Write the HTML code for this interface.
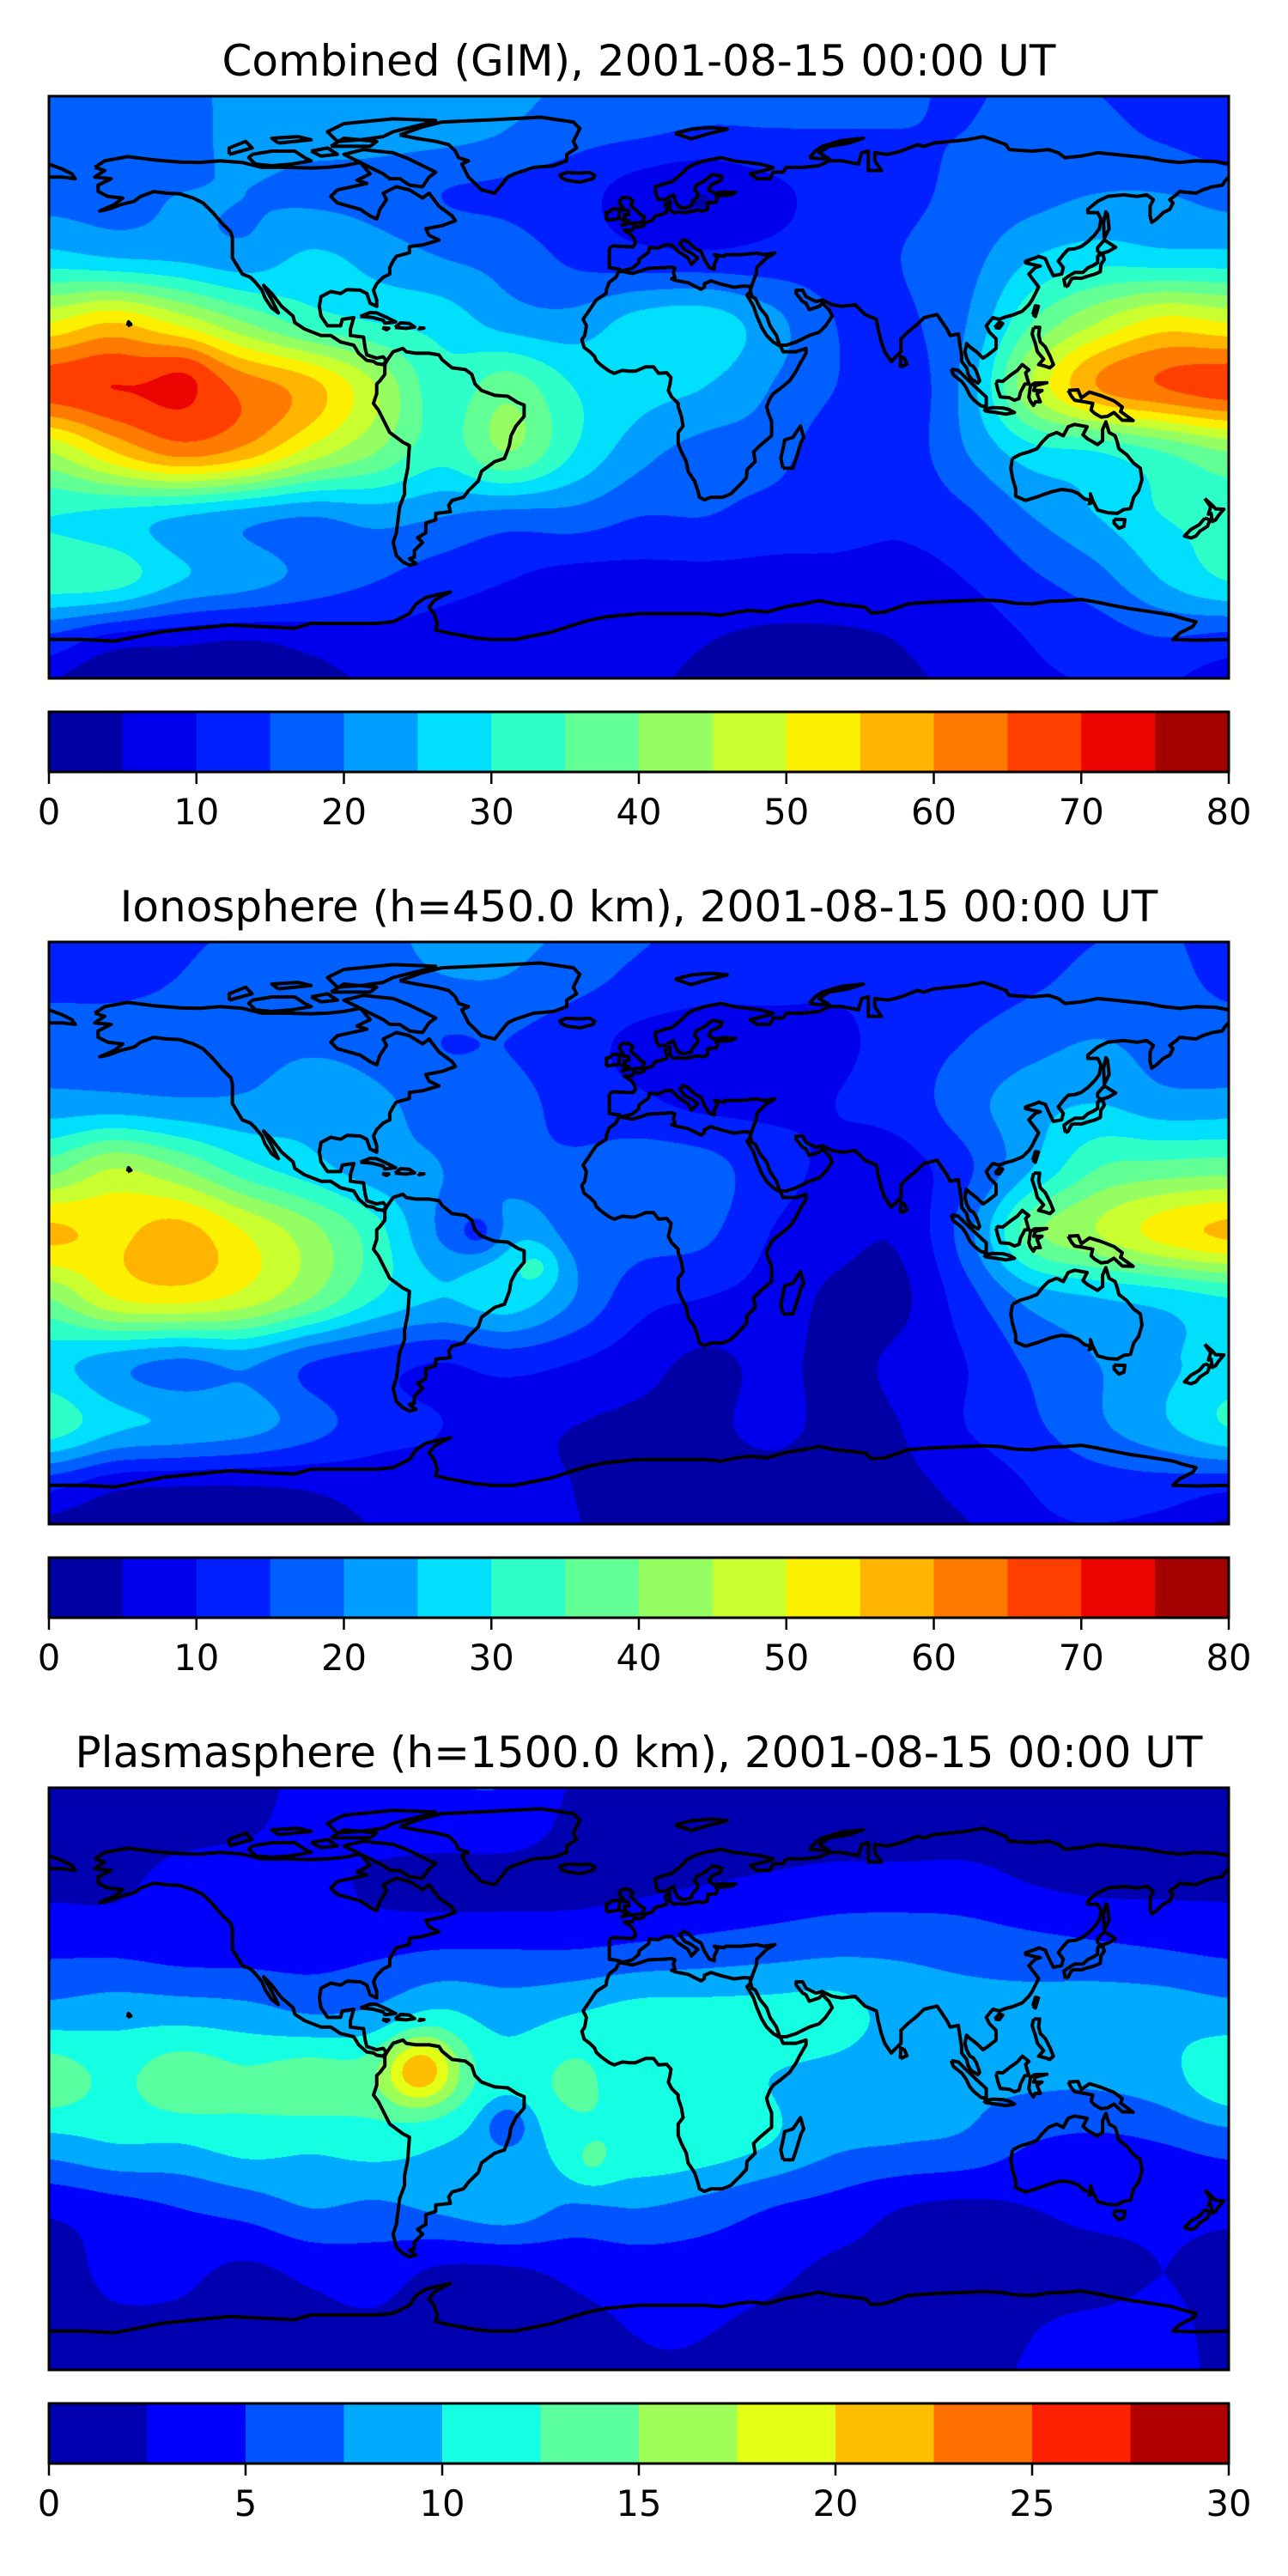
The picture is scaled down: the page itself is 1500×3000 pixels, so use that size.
<!DOCTYPE html>
<html><head><meta charset="utf-8"><title>TEC maps</title>
<style>
html,body{margin:0;padding:0;background:#fff;}
#wrap{position:relative;width:1500px;height:3000px;overflow:hidden;font-family:"DejaVu Sans","Liberation Sans",sans-serif;}
canvas{position:absolute;}
svg{position:absolute;left:0;top:0;}
</style></head>
<body>
<div id="wrap">
<canvas id="c0" width="1374" height="678" style="left:57px;top:112px"></canvas>
<canvas id="c1" width="1374" height="678" style="left:57px;top:1097px"></canvas>
<canvas id="c2" width="1374" height="678" style="left:57px;top:2082px"></canvas>
<svg id="ov" width="1500" height="3000"></svg>
</div>
<script>
// ---- data ----
const lats = [80,60,40,20,0,-20,-40,-60,-80];
const lons = [-180,-160,-140,-120,-100,-80,-60,-40,-20,0,20,40,60,80,100,120,140,160,180];
const combinedValues = [
 [17,18,18,22,22,22,22,20,17,16,15,15,15,15,15,16,16,14,12],
 [18,18,20,20,19,18,15,14,12,8,8,9,12,14,16,18,20,20,18],
 [27,25,24,22,26,23,20,18,14,12,12,12,13,15,18,25,28,27,27],
 [50,55,48,40,33,30,28,23,22,27,28,22,15,14,20,35,45,52,50],
 [68,70,68,63,57,45,32,38,30,27,25,20,15,12,22,45,60,65,68],
 [45,55,62,58,48,40,32,40,30,22,18,17,12,12,20,28,30,35,40],
 [30,28,25,22,20,22,20,18,18,15,15,13,12,11,14,20,25,30,32],
 [33,32,25,22,18,15,12,10,8,8,8,8,8,8,10,14,18,25,30],
 [12,6,5,4,6,8,8,8,7,6,5,4,4,5,7,10,12,14,12]
];
const ionoValues = [
 [14,14,15,16,17,18,20,20,17,14,12,12,11,11,12,14,16,16,14],
 [17,17,17,18,19,18,15,15,12,9,8,8,9,12,15,18,20,18,17],
 [22,22,21,21,23,21,18,17,13,11,9,9,10,12,18,23,25,22,22],
 [38,45,40,32,27,22,20,17,16,18,17,12,9,8,14,25,35,37,38],
 [56,54,57,50,42,32,20,25,18,17,16,10,7,6,18,38,45,52,56],
 [40,50,52,48,40,30,25,28,20,12,10,8,4,4,13,22,25,27,30],
 [27,22,19,21,15,12,10,12,10,7,4,6,4,6,10,16,20,24,27],
 [33,26,24,22,17,12,10,7,5,4,4,6,4,5,10,14,19,24,30],
 [10,5,4,4,5,7,8,7,5,4,3,3,3,4,6,10,12,12,10]
];
const plasmaValues = [
 [1.5,1.5,1.5,2,3.5,4,4,4,2,1.5,1.2,1.2,1.2,1.2,1.2,1.2,1.5,1.5,1.5],
 [2,2,3.5,4,3.5,2,1.5,1.5,1.5,2,2.5,3,3.5,3.5,3.5,2.5,2,2,2],
 [4.5,4.5,4,4,4,4.5,5,5,5,5.5,6,6.5,7,7,6.5,6,5.5,5,4.5],
 [8.5,9,9,8.5,7.5,8,10,9,10,11,11,11,11,9,8.5,8.5,9,9,8.5],
 [14,12,14,13,14,13,13,11,13,11,11,10,9,8,8,8,8,9,12],
 [9,10,10,11,10.5,11,10,9,11,12,11.5,10,8,7.5,7,5,4.5,5,6],
 [3,4,5,6,7.5,7,8,9,7,7.5,6.5,5,4,2.5,2,2.5,3,3,3],
 [1.5,3,3,2,3,3.5,2,2,3,3.5,3.5,3,2,2,2,2,2,2.5,2],
 [2,2,2,2,2,2,1.5,1.5,2,2.5,2.5,2,1.5,1.5,2,2.5,3,3,2]
];
// local features: [lon, lat, amplitude, radius(deg)]
const combinedBlobs = [[-138,6,5,10],[20,58,-3,14]];
const ionoBlobs = [[-48,0,-9,8],[-30,-10,6,7]];
const plasmaBlobs = [[-67,3,9,11],[-40,-14,-4,7],[-15,-27,2.5,8]];
const combinedTicks = [0,10,20,30,40,50,60,70,80];
const plasmaTicks = [0,5,10,15,20,25,30];
const titles = ["Combined (GIM), 2001-08-15 00:00 UT","Ionosphere  (h=450.0 km), 2001-08-15 00:00 UT","Plasmasphere (h=1500.0 km), 2001-08-15 00:00 UT"];

// ---- coastlines (lon,lat) ----
const coasts = [
 [[-166,68],[-163,70],[-156,71.3],[-148,70.3],[-140,69.6],[-134,69.5],[-128,70],[-121,69.5],[-115,68],[-108,68],[-100,67.8],[-95,68],[-90,68.5],[-85,69.5],[-82,66],[-86,64],[-83,63],[-92,61],[-94,59],[-92,57],[-85,55],[-82,53],[-80,52],[-79,55],[-77,58],[-78,60],[-74,62],[-70,61],[-66,58.5],[-64,60],[-61,56],[-57,53],[-56,51.5],[-60,50],[-65,49],[-64,47],[-61,45.5],[-66,44],[-70,43.5],[-70,41.6],[-74,40.5],[-75,39],[-76,37],[-76,35],[-78,34],[-80,32],[-81,30],[-80,27],[-80,25],[-82,26],[-83,29],[-85,30],[-89,30.2],[-91,29],[-94,29.6],[-97,28],[-97.5,25],[-97,22],[-95,19],[-91,19],[-90.5,21],[-87,21.5],[-88,18],[-88,16],[-84,15.5],[-83.5,12],[-83,10],[-80,9],[-78,9.4],[-77,8.2],[-78,7],[-80,7.3],[-81,8],[-83,8.3],[-85.5,10.5],[-87,13],[-91,14],[-94,16],[-97,16],[-102,18],[-105,20],[-105.5,22],[-109,25],[-112,29],[-114.5,31.5],[-112,27],[-110,23],[-112,24.5],[-114,27.5],[-115,30],[-117,32.5],[-118.5,34],[-121,35],[-122.5,37.5],[-124,40],[-124,43],[-124,46],[-124.5,48],[-127,50.5],[-130,54],[-133,57],[-136,58.5],[-140,59.8],[-144,60],[-148,60.5],[-152,59],[-154,57.5],[-158,56.5],[-162,55],[-164.5,54.5],[-160,56.5],[-157.5,58.5],[-162,59],[-165,60.5],[-165,62.5],[-161,64.5],[-166,65],[-163,67],[-166,68]],
 [[-77,8],[-76,9.5],[-75,11],[-72,12],[-71,11],[-68,10.5],[-64,10.5],[-61,10],[-60,8.5],[-57,6],[-53,5.5],[-51,4],[-50,1],[-48,-1],[-44,-2.5],[-40,-2.8],[-37,-4.7],[-35,-5.5],[-35,-9],[-37.5,-12],[-39,-15],[-39.5,-18],[-41,-22],[-44,-23],[-48,-26],[-49,-29],[-52,-32],[-53.5,-34],[-57,-35],[-58,-36.5],[-57.5,-38.5],[-62,-39],[-62,-41],[-65,-42],[-65,-45],[-67.5,-46.5],[-66,-48],[-68.5,-50.5],[-68.5,-52.5],[-70,-53],[-68,-54.5],[-70,-55],[-72,-54],[-74,-52],[-75,-48],[-74,-45],[-73.5,-41],[-73,-37],[-71.5,-33],[-71.5,-30],[-70.5,-25],[-70,-18],[-72,-17],[-76,-14],[-77.5,-11],[-79.5,-7],[-81,-5],[-80,-2],[-80,1],[-79,2],[-77.5,4],[-77.5,7],[-77,8]],
 [[-73,78],[-66,80.5],[-60,82],[-45,82.7],[-30,83.5],[-20,82],[-18,80],[-20,76],[-19,74],[-22,72],[-22,70],[-26,68.5],[-32,68],[-38,66],[-40,65],[-42,62.5],[-44,60],[-48,61],[-50,63],[-52,65],[-53,67],[-54,69],[-52,70],[-55,71],[-56,73],[-58,75],[-62,76],[-68,77],[-73,78]],
 [[-80,73],[-75,72.5],[-70,70.5],[-67,69],[-62,66.5],[-64,65],[-66,62],[-70,62.5],[-73,64.5],[-76,64.5],[-78,66],[-82,68],[-86,70],[-90,72],[-84,73.5],[-80,73]],
 [[-118,72],[-112,73],[-105,73],[-102,71],[-100,70],[-106,69],[-112,68.5],[-117,69],[-119,71],[-118,72]],
 [[-92,76],[-85,76.5],[-78,77.5],[-75,79],[-65,81.5],[-62,82.5],[-75,83],[-90,81.5],[-95,79],[-92,76]],
 [[-125,72],[-118,74],[-120,76],[-125,74],[-125,72]],
 [[-100,73],[-95,74],[-92,72],[-97,71.5],[-100,73]],
 [[-110,75.5],[-100,76.5],[-104,77.5],[-112,77],[-110,75.5]],
 [[-94,74.5],[-82,74.5],[-80,76],[-90,77],[-94,74.5]],
 [[-9,43],[-9,39],[-9,37],[-6,36.5],[-5,36],[-2,36.8],[0,38.5],[0,39.5],[3,41.8],[3.2,43.2],[6,43],[8,44],[10,44],[12,42],[15,40],[16,38],[17,39],[18,40],[16,41.5],[14,42.5],[12.5,44.5],[13.5,45.6],[15,45],[17,43],[19,42],[20,39.5],[21.5,37],[23,36.5],[23,38],[24,40],[23,41],[26,40.5],[26.5,41],[29,41],[31,41],[36,41.5],[38,41],[41.5,41.5],[39,40],[36,37],[35.8,35],[35,33],[34.5,31.5],[34,30],[34.5,28],[35.5,27.5],[37,24.5],[39,22],[40,19],[42,16],[43,13],[45,13],[48,14],[52,16],[55,17],[57,19],[59,22],[58,24],[56,26],[56.3,26.3],[55,25],[52,24],[51,26],[50,26.5],[48,29],[48,30],[50,30],[51,28],[54,26.5],[56,27],[59,25.5],[62,25],[66,25.5],[67.5,24],[69,22.5],[72.5,21],[73,18],[74,14],[75,11],[77,8],[78,9],[80,11],[80,15],[82,17],[85,19.5],[87,21.5],[89,22],[91,22.5],[92,21],[94,18],[95,16],[97.5,16.5],[98,13],[98.5,10],[98.5,8],[100,6],[100.5,4],[101.5,2.5],[103.5,1.3],[104,2],[103,5],[102,6.5],[101,7],[100,9],[99.5,11],[100,13.5],[101,12.5],[103,11],[105,9],[106.5,10],[109,12],[109,15],[107,17],[106,19],[108,21.5],[110,21],[112,21.8],[114,22.3],[117,23.5],[119,25.5],[120,27],[121.5,30],[122,31],[120.5,33],[119,35],[121,37],[122.5,37.5],[120,38],[118,38.5],[118,39],[121,40],[122,40.5],[124,39.8],[125,37.5],[126.5,34.5],[129,35],[129.5,37],[128,39],[129.5,41],[131,42.6],[133,42.8],[135,43.5],[137,45],[139,47],[140.5,49],[141,52],[140,54],[137,54],[137,55],[140,57.5],[143,59],[148,59.5],[152,59],[155,59.5],[157,58],[156,56],[156,53],[156.5,51],[158,52],[160,54],[162,55],[163,57],[162,58],[164,59.5],[165,60.5],[170,60],[172,61],[175,62],[178,62.5],[179,64],[180,65]],
 [[180,69],[176,69.8],[170,70],[165,69.5],[160,70],[155,71],[150,71.5],[145,72],[140,72.5],[135,71.5],[130,71],[128,72.5],[125,73.5],[120,73],[113,73.5],[112,75],[108,76.5],[105,77.5],[100,76.5],[95,76],[90,75.5],[87,74.5],[85,75],[80,73],[76,72],[72,72.5],[72,70],[74,67],[70,67],[70,73],[68,72.5],[67,69],[62,70],[58,70],[55,68.5],[50,68],[45,68],[44,66.5],[41,66.5],[40,64.5],[36,64.5],[34,66],[40,67.5],[41,68],[37,69],[33,69.5],[29,70],[25,71],[20,70],[17,69],[15,68],[12.5,65.5],[10,63.5],[8,63],[5,62],[5,61],[5.5,59],[6,58],[8,58],[10.5,59.5],[11,58],[12,56],[12.6,56],[12.8,55.5],[14,55.5],[16,56],[16.5,57.5],[18,59],[18,60],[17,61],[17.5,62.5],[20,63.8],[21.5,65],[22.5,65.8],[25.4,65.2],[25,64],[22,62.5],[21.3,61],[23,60],[26,60.4],[29.5,60.2],[28,59.5],[23.5,59.2],[24,58.3],[23.5,57.2],[21,57],[21,56],[21,55],[19.5,54.5],[18,54.8],[14,54],[12,54.2],[10.5,54],[9.5,55],[9.5,57.5],[8,56.5],[8.5,55],[8.5,54],[7,53.5],[5,53],[4,51.5],[2,51],[1.5,50],[0,49.5],[-1.5,49.7],[-2,48.6],[-4.5,48.5],[-2.5,47.3],[-1.5,46],[-1,44.5],[-1.8,43.4],[-4,43.5],[-8,43.7],[-9,43]],
 [[-180,65],[-176,65],[-172,64.5],[-173,66],[-176,67.5],[-180,69]],
 [[-6,36],[-2,35.2],[0,35.8],[3,36.8],[8,37],[10,37.2],[11,36.8],[10.5,35.5],[11,34],[10,33.5],[11.5,33],[15,32.3],[19,30.3],[20,31],[20,32],[22,32.9],[25,31.9],[29,30.9],[32,31.3],[34,31.2],[34,29.5],[33,28.5],[35,25],[36,22],[37.5,18.5],[39,16],[41,14],[43.3,12.6],[44,11],[48,11],[51,12],[51,10.5],[49,7],[48,5],[46,2],[43,-0.5],[41,-2],[40,-3.5],[39,-6],[39.5,-8],[40.5,-10.5],[40.5,-15],[37,-18],[35,-20],[35.5,-23],[33,-25.5],[32.8,-28],[31,-30],[28,-33],[25.5,-34],[22,-34],[20,-34.8],[18.5,-34],[18,-32],[17,-29],[15,-26],[14.5,-23],[13,-20],[12,-17.5],[12,-14],[13.5,-12],[13,-9],[12,-6],[12,-5],[10,-3],[9,-1],[9.5,1],[9.8,3],[8.5,4.5],[6,4.3],[4.5,6.3],[2,6.3],[-1,5],[-3,5],[-5,5.2],[-7.5,4.3],[-9,5],[-11.5,6.8],[-13,8.2],[-13.5,9.5],[-15,11],[-16.7,12.3],[-17.4,14.7],[-16.5,16],[-16,19],[-17,21],[-15,24],[-13,27],[-10,29],[-9.8,30.5],[-9,32.5],[-7,34],[-6,36]],
 [[-5.5,50],[-3,50.6],[1,51],[1.7,52.7],[0.3,53.5],[-0.5,54.5],[-1.8,55.6],[-2.5,56.5],[-1.8,57.6],[-3,58.6],[-5,58.6],[-6,57.5],[-5.5,56.3],[-4.8,55.7],[-5,54.8],[-3.2,54.6],[-3,53.4],[-4.5,53.3],[-4.2,52.3],[-5.2,51.8],[-3,51.4],[-5.5,50]],
 [[-10,51.6],[-6,52.2],[-6,53.8],[-5.8,55.2],[-8,55.2],[-8.8,54.3],[-10,54],[-9.8,53],[-10,51.6]],
 [[44,-25],[47,-25],[48,-22],[49.5,-17],[50.3,-15.5],[49.3,-12],[47,-15.5],[44.5,-16.3],[44,-19],[43.3,-22],[44,-25]],
 [[114,-22],[113.5,-25],[114,-28],[115,-31.5],[115,-33.7],[118,-35],[121.5,-33.9],[124,-33],[126,-32.3],[129,-31.6],[132,-32],[134,-32.8],[136,-34.5],[138,-35],[137.8,-33],[138.5,-35],[140,-38],[143,-38.8],[146,-39],[148,-37.8],[150,-37.5],[151,-34],[152.5,-32],[153.5,-28.5],[153,-25],[151,-23.5],[149,-21],[146.5,-19],[146,-17],[145.3,-15],[143.5,-14],[142.5,-10.7],[141.5,-13],[141.5,-16.5],[140,-17.7],[137,-16],[135.5,-14.7],[136.8,-12.2],[133,-11.5],[131,-12.2],[129.5,-15],[127.5,-14],[125,-15],[123,-17],[121.5,-19],[119,-20],[116.5,-20.7],[114,-22]],
 [[145,-40.8],[148.3,-40.9],[148,-43],[146.5,-43.6],[145,-42],[145,-40.8]],
 [[172.7,-34.4],[175,-36.5],[176,-37.6],[178.5,-37.7],[177,-39.5],[176,-41],[175,-41.5],[174.6,-39],[173.8,-39.2],[174.5,-37],[172.7,-34.4]],
 [[172.7,-40.5],[174.3,-41],[173.5,-43],[171.2,-44.5],[170,-46],[168.5,-46.6],[166.5,-46],[168.4,-44],[171,-42.5],[172.7,-40.5]],
 [[130.2,31],[131,31.5],[132,33.5],[133,33.8],[135,33.7],[136.8,34.3],[139,34.9],[140.8,35.7],[141,38],[142,39.5],[141.5,41.4],[140,40.5],[140,38.5],[138.5,37.6],[137,36.9],[135.5,35.5],[133,35.5],[131,34.3],[129.7,33.3],[130.2,31]],
 [[140,41.8],[141.3,41.4],[143.3,42],[145.5,43.3],[142,45.5],[141.6,45],[140,43.2],[140,41.8]],
 [[142,46],[143.5,49],[143,53.5],[142.5,54.2],[141.8,51],[142,46]],
 [[95.3,5.6],[97.5,5.2],[100.5,2.2],[103.5,-0.7],[106,-3],[106,-5.9],[104.5,-5.8],[102.3,-4],[101,-2.5],[99.8,0],[98.6,1.7],[96,3.8],[95.3,5.6]],
 [[105.2,-6.8],[108,-6.3],[111,-6.4],[113,-6.9],[114.6,-7.8],[112,-8.3],[109,-7.8],[106,-7.4],[105.2,-6.8]],
 [[109,1.5],[109.6,-1],[110.3,-3],[113,-3.2],[114.6,-4],[116,-3.5],[116.5,-1.5],[117.8,1],[119,1],[118,4.5],[119,5.4],[117,7],[115.5,5.2],[113.5,3.8],[111,1.8],[109.6,2],[109,1.5]],
 [[119.5,0.5],[120.8,1.3],[124.5,1.4],[121,0.5],[120.5,-1],[123,-1],[121.5,-2],[122.5,-4.5],[121,-4.5],[120.4,-5.6],[119.4,-4.2],[119,-3],[119.5,0.5]],
 [[131,-1],[134,-0.8],[135,-3.3],[137.5,-1.5],[141,-2.6],[145,-4.2],[147.5,-6.1],[147,-7.5],[150.8,-10.3],[147.5,-10.2],[145,-7.8],[143,-9],[141,-9.2],[139.1,-8.1],[138,-7],[138.5,-5],[135.5,-4.4],[133,-4],[132,-2.8],[131,-1]],
 [[120.5,18.5],[122.3,18.5],[122,16.2],[122.5,14],[124,12.5],[125.5,9.5],[126.5,7],[125.4,6],[124,6.5],[122,7],[123.5,8.7],[121.6,11],[121,13.5],[120.6,14.6],[120,16.5],[120.5,18.5]],
 [[120.2,22.5],[121,21.9],[121.9,25],[121,25.2],[120.2,22.5]],
 [[108.6,18.5],[110,18.3],[111,19.7],[110,20.1],[108.6,18.5]],
 [[-85,21.9],[-82,23.1],[-80,23],[-77,21.6],[-74.2,20.2],[-77.5,19.8],[-78,20.7],[-81.5,21.6],[-85,21.9]],
 [[-74.4,18.5],[-72.7,19.9],[-70,19.7],[-68.4,18.6],[-71,18.2],[-74.4,18.5]],
 [[-78.3,18.4],[-76.3,18.2],[-77,17.8],[-78.3,18.4]],
 [[-67.2,18.4],[-65.6,18.3],[-67,18],[-67.2,18.4]],
 [[-156,19],[-155,19.4],[-155.7,20.2],[-156,19]],
 [[-180,-78],[-170,-78],[-160,-78.5],[-150,-76.5],[-145,-75.5],[-135,-74.5],[-125,-73.5],[-115,-74],[-105,-74.5],[-100,-73],[-90,-73],[-80,-73],[-75,-72.5],[-70,-70],[-68,-67],[-65,-65],[-61,-64],[-57.5,-63.3],[-60,-64.5],[-62.5,-66],[-64,-68],[-62.5,-70],[-61.5,-73],[-62,-75],[-58,-76],[-50,-77.5],[-45,-78],[-38,-78],[-33,-77],[-27,-75.8],[-20,-73.5],[-15,-72],[-10,-71],[0,-70],[10,-70],[20,-70],[25,-70.5],[30,-69.5],[34,-69],[39,-69.5],[45,-67.8],[50,-67],[55,-66],[60,-67],[65,-67.5],[69,-68],[71,-69.8],[75,-69.5],[78,-68.5],[82,-67],[88,-66.5],[95,-66.2],[100,-66],[105,-65.8],[110,-66],[115,-66.8],[120,-67],[125,-66.2],[130,-66],[135,-65.6],[140,-66.5],[145,-67.5],[150,-68.5],[155,-69.2],[160,-70],[163,-70.5],[166,-71.5],[170,-72.5],[169,-74],[165,-76],[163,-78],[170,-78.2],[180,-78]],
 [[-24,65],[-22,64],[-18,63.4],[-14,64.5],[-13.5,65.5],[-15,66.4],[-18,66.2],[-22,66.4],[-24,65.7],[-24,65]],
 [[52,71],[55,70.7],[58,70.7],[55,72.5],[58,74.5],[64,75.5],[68.5,77],[62,76.3],[56,74.5],[54,73.2],[52,71]],
 [[11,78.5],[16,79.8],[22,80.3],[27,79.8],[21,78.3],[16,76.8],[11,78.5]],
 [[79.8,6.2],[81.8,7.2],[81,9],[79.9,9.5],[79.8,6.2]],
 [[137,-35.8],[138,-35.8],[137.5,-36],[137,-35.8]]
];

function jet(t){
  const seg=(pts)=>{for(let i=1;i<pts.length;i++){if(t<=pts[i][0]){const a=pts[i-1],b=pts[i];return a[1]+(b[1]-a[1])*(t-a[0])/(b[0]-a[0]);}}return pts[pts.length-1][1];};
  const r=seg([[0,0],[0.35,0],[0.66,1],[0.89,1],[1,0.5]]);
  const g=seg([[0,0],[0.125,0],[0.375,1],[0.64,1],[0.91,0],[1,0]]);
  const b=seg([[0,0.5],[0.11,1],[0.34,1],[0.65,0],[1,0]]);
  return [r,g,b].map(v=>Math.round(Math.max(0,Math.min(1,v))*255));
}
function cr(p0,p1,p2,p3,t){return 0.5*((2*p1)+(-p0+p2)*t+(2*p0-5*p1+4*p2-p3)*t*t+(-p0+3*p1-3*p2+p3)*t*t*t);}
function baseAt(grid,r,c){
  const nr=lats.length,nc=lons.length;
  const ri=Math.min(nr-2,Math.floor(r)), ci=Math.min(nc-2,Math.floor(c));
  const tr=r-ri, tc=c-ci;
  const g=(i,j)=>grid[Math.max(0,Math.min(nr-1,i))][Math.max(0,Math.min(nc-1,j))];
  const rows=[];
  for(let k=-1;k<=2;k++){rows.push(cr(g(ri+k,ci-1),g(ri+k,ci),g(ri+k,ci+1),g(ri+k,ci+2),tc));}
  return cr(rows[0],rows[1],rows[2],rows[3],tr);
}
function field(grid,blobs,lon,lat){
  const nr=lats.length,nc=lons.length;
  const rRaw=(lats[0]-lat)/(lats[0]-lats[1]);
  const r=Math.max(0,Math.min(nr-1,rRaw));
  let c=(lon-lons[0])/(lons[1]-lons[0]); c=Math.max(0,Math.min(nc-1,c));
  let v=baseAt(grid,r,c);
  if(rRaw!==r){
    const inner=baseAt(grid,rRaw>r?r-0.5:r+0.5,c);
    v+=Math.abs(rRaw-r)*2*(v-inner)*0.6;
  }
  for(const b of blobs){const dx=(lon-b[0])/b[3],dy=(lat-b[1])/b[3];v+=b[2]*Math.exp(-(dx*dx+dy*dy));}
  return v;
}
function renderField(id,grid,blobs,vmax,n){
  const cv=document.getElementById(id),ctx=cv.getContext('2d');
  const W=cv.width,H=cv.height,img=ctx.createImageData(W,H),d=img.data;
  const cols=[];for(let i=0;i<n;i++)cols.push(jet((i+0.5)/n));
  const step=vmax/n;
  for(let y=0;y<H;y++){const lat=90-(y+0.5)/H*180;
    for(let x=0;x<W;x++){const lon=-180+(x+0.5)/W*360;
      let k=Math.floor(field(grid,blobs,lon,lat)/step);k=Math.max(0,Math.min(n-1,k));
      const o=(y*W+x)*4,cc=cols[k];d[o]=cc[0];d[o+1]=cc[1];d[o+2]=cc[2];d[o+3]=255;}}
  ctx.putImageData(img,0,0);
}
renderField('c0',combinedValues,combinedBlobs,80,16);
renderField('c1',ionoValues,ionoBlobs,80,16);
renderField('c2',plasmaValues,plasmaBlobs,30,12);

const NS='http://www.w3.org/2000/svg';
const ov=document.getElementById('ov');
function mk(tag,attrs,parent){const e=document.createElementNS(NS,tag);for(const k in attrs)e.setAttribute(k,attrs[k]);(parent||ov).appendChild(e);return e;}
const MX=57,MW=1374,MH=678;
const mapTops=[112,1097,2082];
const panelNames=['combined','ionosphere','plasmasphere'];
const defs=mk('defs',{});
mapTops.forEach((top,p)=>{
  const g=mk('g',{});
  
  
  const t=mk('text',{x:744,y:top-24,'text-anchor':'middle','font-size':50,fill:'#000'},g);
  t.textContent=titles[p];
  
  
  const cp=mk('clipPath',{id:'clip'+p},defs);
  mk('rect',{x:MX,y:top,width:MW,height:MH},cp);
  const cg=mk('g',{'clip-path':'url(#clip'+p+')',fill:'none',stroke:'#000','stroke-width':4,'stroke-linejoin':'round'},g);
  
  
  coasts.forEach(poly=>{
    const pts=poly.map(q=>(MX+(q[0]+180)/360*MW).toFixed(1)+','+(top+(90-q[1])/180*MH).toFixed(1)).join(' ');
    const pl=mk('polyline',{points:pts},cg);
    
    
  });
  const fr=mk('rect',{x:MX,y:top,width:MW,height:MH,fill:'none',stroke:'#000','stroke-width':3},g);
  
  
  const cbTop=top+717,cbH=70;
  const n=p===2?12:16, vmax=p===2?30:80, ticks=p===2?plasmaTicks:combinedTicks;
  const cb=mk('g',{},g);
  
  
  const sx=v=>MX+v/vmax*MW;
  for(let i=0;i<n;i++){
    const c=jet((i+0.5)/n);
    const r=mk('rect',{x:sx(i*vmax/n),y:cbTop,width:MW/n+0.6,height:cbH,fill:'rgb('+c.join(',')+')'},cb);
    
    
  }
  mk('rect',{x:MX,y:cbTop,width:MW,height:cbH,fill:'none',stroke:'#000','stroke-width':3},cb);
  ticks.forEach(v=>{
    const x=sx(v);
    mk('line',{x1:x,x2:x,y1:cbTop+cbH,y2:cbTop+cbH+14,stroke:'#000','stroke-width':2.5},cb);
    const tl=mk('text',{x:x,y:cbTop+cbH+61,'text-anchor':'middle','font-size':41.7,fill:'#000'},cb);
    tl.textContent=String(v);
    
    
  });
});
</script>
</body></html>
